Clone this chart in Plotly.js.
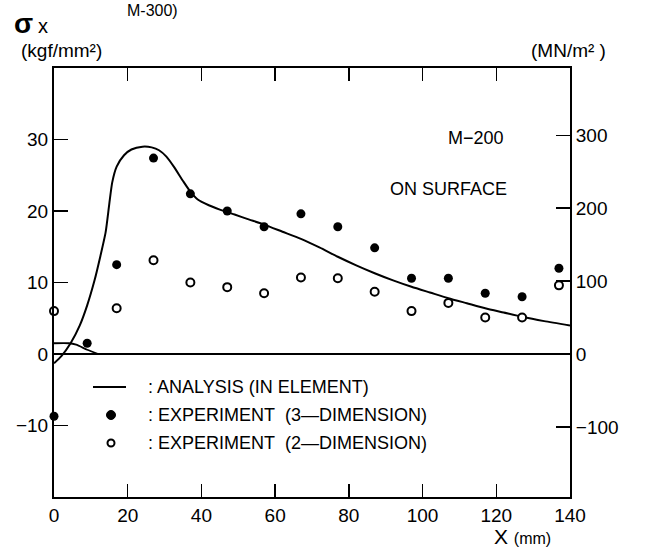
<!DOCTYPE html>
<html>
<head>
<meta charset="utf-8">
<script src="https://cdn.plot.ly/plotly-3.0.1.min.js"></script>
<style>html,body{margin:0;padding:0;background:#fff;}#chart{width:645px;height:552px;}</style>
</head>
<body>
<div id="chart"></div>
<script>
// ---- data (kgf/mm^2 vs mm) ----
const xAnalysis = [0, 2, 4.5, 7, 9, 11, 12.5, 14, 15, 15.8, 17, 19, 21, 24, 26.5, 28.5, 30.5, 32.5, 35, 37, 39, 42, 45, 49, 53, 57, 62, 67, 72, 77, 82, 87, 92, 97, 102, 107, 112, 117, 122, 127, 133, 140];
const yAnalysis = [-1.3, -0.3, 1.5, 4.0, 6.8, 10.3, 13.5, 17.0, 21.0, 24.0, 26.2, 27.8, 28.6, 29.0, 28.9, 28.5, 27.6, 26.2, 24.2, 22.7, 21.6, 20.8, 20.2, 19.5, 18.8, 18.1, 17.1, 16.1, 14.9, 13.6, 12.4, 11.3, 10.3, 9.4, 8.6, 7.8, 7.1, 6.4, 5.8, 5.2, 4.6, 4.0];
const xAnalysisElem = [0, 4, 6, 9, 12];
const yAnalysisElem = [1.5, 1.5, 1.3, 0.6, 0];
const x3D = [0, 9, 17, 27, 37, 47, 57, 67, 77, 87, 97, 107, 117, 127, 137];
const y3D = [-8.7, 1.5, 12.5, 27.4, 22.4, 20.0, 17.8, 19.6, 17.8, 14.85, 10.6, 10.6, 8.5, 8.0, 12.0];
const x2D = [0, 17, 27, 37, 47, 57, 67, 77, 87, 97, 107, 117, 127, 137];
const y2D = [6.0, 6.4, 13.1, 10.0, 9.35, 8.5, 10.7, 10.6, 8.7, 6.0, 7.15, 5.1, 5.1, 9.6];

const xTicks = [0, 20, 40, 60, 80, 100, 120, 140];
const yTicksLeft = [-10, 0, 10, 20, 30];
const yTicksRight = [-100, 0, 100, 200, 300];
const KGF_TO_MN = 9.80665;
const xRange = [0, 140];
const yRange = [-20, 40];

const legendLabels = [': ANALYSIS\u00a0(IN\u00a0ELEMENT)', ': EXPERIMENT\u00a0\u00a0(3\u2014DIMENSION)', ': EXPERIMENT\u00a0\u00a0(2\u2014DIMENSION)'];

// ---- layout helpers (pixel -> paper) ----
const L = 54, R = 570, T = 68, B = 497;
const W = 645, H = 552;
const px = v => (v - L) / (R - L);
const py = v => (B - v) / (B - T);
const FONT = 'Liberation Sans, Arial, Helvetica, sans-serif';

const traces = [
  {x: xAnalysis, y: yAnalysis, mode: 'lines', line: {color: '#000', width: 2, shape: 'spline', smoothing: 0.6}, cliponaxis: false, showlegend: false},
  {x: xAnalysisElem, y: yAnalysisElem, mode: 'lines', line: {color: '#000', width: 1.8, shape: 'spline', smoothing: 0.6}, cliponaxis: false, showlegend: false},
  {x: x3D, y: y3D, mode: 'markers', marker: {color: '#000', size: 9, symbol: 'circle'}, cliponaxis: false, showlegend: false},
  {x: x2D, y: y2D, mode: 'markers', marker: {color: '#fff', size: 8, symbol: 'circle', line: {color: '#000', width: 2}}, cliponaxis: false, showlegend: false},
  {x: [], y: [], yaxis: 'y2', showlegend: false}
];

const txt = (text, x, y, size, xanchor, extra) => Object.assign({
  text: text, xref: 'paper', yref: 'paper', x: px(x), y: py(y), xanchor: xanchor || 'center', yanchor: 'middle',
  showarrow: false, font: {family: FONT, size: size, color: '#000'}
}, extra || {});

const annotations = [
  txt('<b>σ</b>', 23, 23, 28, 'center'),
  txt('x', 43, 26, 20, 'center'),
  txt('(kgf/mm²)', 61, 50, 19, 'center'),
  txt('(MN/m²\u00a0)', 568, 51, 19, 'center'),
  txt('M-300)', 152, 11, 16, 'center'),
  txt('M\u2212200', 476, 138, 18, 'center'),
  txt('ON SURFACE', 448, 189, 18, 'center'),
  txt('X <span style="font-size:16px">(mm)</span>', 492, 536, 21, 'left'),
  txt(legendLabels[0], 146, 387, 18, 'left'),
  txt(legendLabels[1], 146, 415, 18, 'left'),
  txt(legendLabels[2], 146, 443, 18, 'left')
];

const shapes = [
  {type: 'line', xref: 'paper', yref: 'paper', x0: px(93), x1: px(126), y0: py(387), y1: py(387), line: {color: '#000', width: 2}},
  {type: 'circle', xref: 'paper', yref: 'paper', xsizemode: 'pixel', ysizemode: 'pixel', xanchor: px(111), yanchor: py(415), x0: -4.5, x1: 4.5, y0: -4.5, y1: 4.5, fillcolor: '#000', line: {color: '#000', width: 1}},
  {type: 'circle', xref: 'paper', yref: 'paper', xsizemode: 'pixel', ysizemode: 'pixel', xanchor: px(111), yanchor: py(443), x0: -3.5, x1: 3.5, y0: -3.5, y1: 3.5, fillcolor: '#fff', line: {color: '#000', width: 2}}
];

const layout = {
  width: W, height: H,
  margin: {l: L, r: W - R, t: T, b: H - B, pad: 0},
  paper_bgcolor: '#fff', plot_bgcolor: '#fff',
  font: {family: FONT, size: 19, color: '#000'},
  showlegend: false,
  xaxis: {
    range: xRange, tickvals: xTicks, ticktext: xTicks.map(String),
    ticks: 'inside', ticklen: 13, tickwidth: 1.5, tickcolor: '#000',
    showline: true, linecolor: '#000', linewidth: 2, mirror: 'ticks',
    showgrid: false, zeroline: false, tickfont: {family: FONT, size: 19}
  },
  yaxis: {
    range: yRange, tickvals: yTicksLeft, ticktext: yTicksLeft.map(v => v < 0 ? '\u2212' + Math.abs(v) : String(v)),
    ticks: 'inside', ticklen: 14, tickwidth: 1.5, tickcolor: '#000',
    showline: true, linecolor: '#000', linewidth: 2,
    showgrid: false, zeroline: true, zerolinecolor: '#000', zerolinewidth: 1.5,
    tickfont: {family: FONT, size: 19}
  },
  yaxis2: {
    overlaying: 'y', side: 'right', anchor: 'x',
    range: yRange.map(v => v * KGF_TO_MN), tickvals: yTicksRight,
    ticktext: yTicksRight.map(v => v < 0 ? '\u2212' + Math.abs(v) : String(v)),
    ticks: 'inside', ticklen: 14, tickwidth: 1.5, tickcolor: '#000',
    showline: true, linecolor: '#000', linewidth: 2,
    showgrid: false, zeroline: false, tickfont: {family: FONT, size: 19}
  },
  annotations: annotations,
  shapes: shapes
};

Plotly.newPlot('chart', traces, layout, {displayModeBar: false, staticPlot: true});
</script>
</body>
</html>
